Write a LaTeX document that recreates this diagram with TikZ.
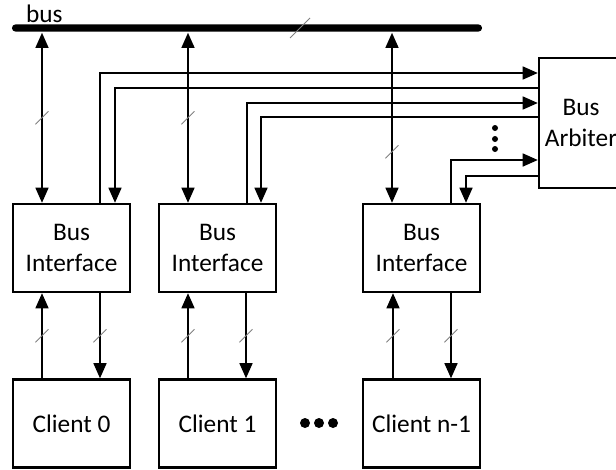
\documentclass[tikz,border=0pt]{standalone}
\usepackage{fontspec}
\setmainfont{Carlito}
\usetikzlibrary{arrows.meta, calc}

\begin{document}
\begin{tikzpicture}[x=0.025cm, y=-0.025cm, line width=1.6pt,
  every node/.style={font=\fontsize{18}{22}\selectfont},
  box/.style={draw, minimum width=2.925cm, minimum height=2.2cm, align=center, inner sep=0pt},
  arr/.style={-{Triangle[length=0.38cm, width=0.32cm]}},
  both/.style={{Triangle[length=0.38cm, width=0.32cm]}-{Triangle[length=0.38cm, width=0.32cm]}},
  pics/slash/.style={code={\draw[gray, line width=0.6pt, arrows=-] (-#1,#1) -- (#1,-#1);}},
  pics/slash/.default=6.5]
  \clip (0,0) rectangle (616,469);

  % shared bus
  \node[fill, inner sep=0pt, minimum width=11.75cm, minimum height=0.18cm, rounded corners=0.09cm] (bus) at (247,28) {};
  \node[anchor=base west, inner sep=0pt] (buslbl) at (25,22) {bus};
  \pic at (bus.center -| 300,0) {slash=10};

  \node[box] (bi0) at (71.5,248) {Bus\\Interface};
  \node[box] (bi1) at (217.5,248) {Bus\\Interface};
  \node[box] (bi2) at (421.5,248) {Bus\\Interface};

  \node[box] (cl0) at (71.5,423.5) {Client 0};
  \node[box] (cl1) at (217.5,423.5) {Client 1};
  \node[box] (cln) at (421.5,423.5) {Client n-1};

  \node[box, minimum width=2.1cm, minimum height=3.25cm] (arb) at (581,123) {Bus\\Arbiter};

  % bus <-> interfaces
  \draw[both] (bus.south -| 42,0) -- pic[pos=.5]{slash} (bi0.north -| 42,0);
  \draw[both] (bus.south -| 188,0) -- pic[pos=.5]{slash} (bi1.north -| 188,0);
  \draw[both] (bus.south -| 392,0) -- pic[pos=.7]{slash} (bi2.north -| 392,0);

  % request / grant
  \draw[arr] (bi0.north -| 100,0) |- (arb.west |- 0,73);
  \draw[arr] (arb.west |- 0,88) -| (bi0.north -| 115,0);
  \draw[arr] (bi1.north -| 247,0) |- (arb.west |- 0,103);
  \draw[arr] (arb.west |- 0,117) -| (bi1.north -| 261,0);
  \draw[arr] (bi2.north -| 451,0) |- (arb.west |- 0,160);
  \draw[arr] (arb.west |- 0,176) -| (bi2.north -| 466,0);
  \foreach \y in {128,139,149} \fill (495,\y) circle[radius=0.075cm];

  % clients <-> interfaces
  \draw[arr] (cl0.north -| 42,0) -- pic[pos=.5]{slash} (bi0.south -| 42,0);
  \draw[arr] (bi0.south -| 100,0) -- pic[pos=.5]{slash} (cl0.north -| 100,0);
  \draw[arr] (cl1.north -| 188,0) -- pic[pos=.5]{slash} (bi1.south -| 188,0);
  \draw[arr] (bi1.south -| 246,0) -- pic[pos=.5]{slash} (cl1.north -| 246,0);
  \draw[arr] (cln.north -| 393,0) -- pic[pos=.5]{slash} (bi2.south -| 393,0);
  \draw[arr] (bi2.south -| 451,0) -- pic[pos=.5]{slash} (cln.north -| 451,0);
  \foreach \x in {305,319,333} \fill (\x,423) circle[radius=0.125cm];
\end{tikzpicture}
\end{document}
